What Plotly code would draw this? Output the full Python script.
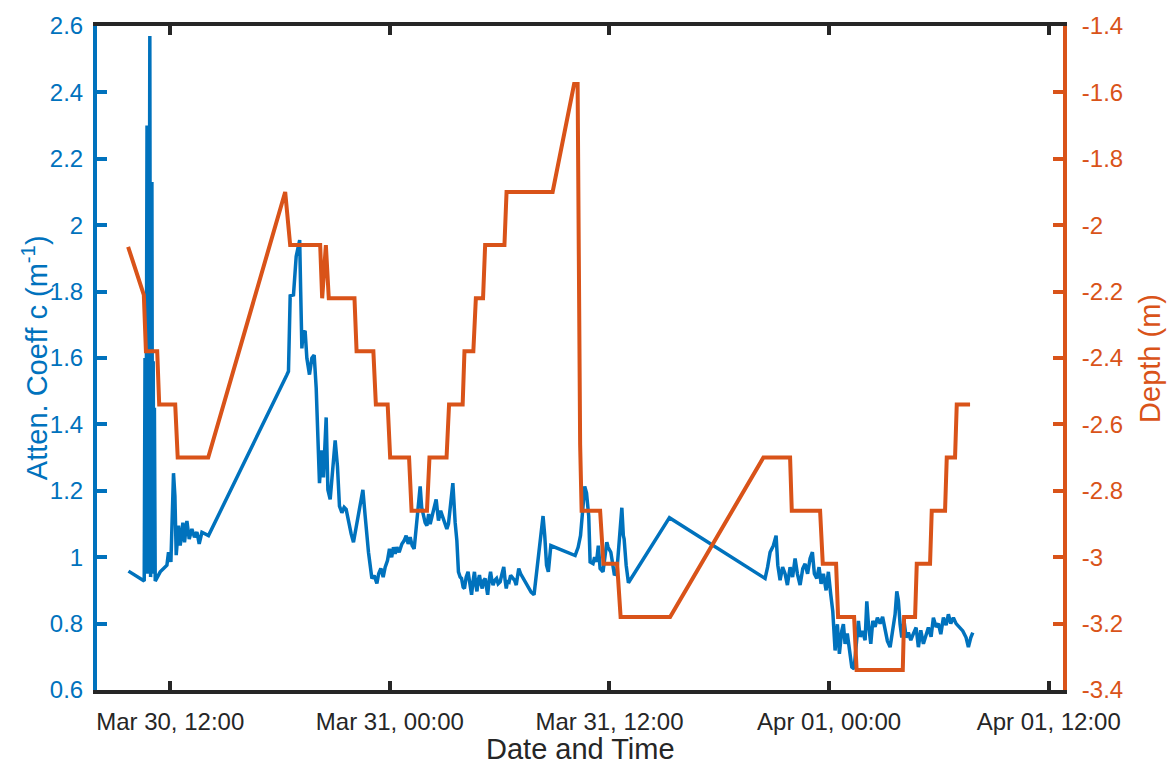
import pandas as pd
import plotly.graph_objects as go

# Time base: hours are counted from Mar 30, 00:00
BASE_DAY = "2024-03-30"

# Beam attenuation coefficient c (m^-1)
atten_hours = [
    9.72, 10.580, 10.623, 10.656, 10.700, 10.733, 10.765, 10.798, 10.831, 10.886,
    10.929, 10.962, 11.000, 11.033, 11.071, 11.104, 11.137, 11.181, 11.454, 11.820,
    11.907, 12.038, 12.180, 12.257, 12.328, 12.453, 12.546, 12.694, 12.781, 12.912,
    13.038, 13.185, 13.327, 13.459, 13.584, 13.732, 13.912, 14.092, 18.364, 18.462,
    18.555, 18.735, 18.883, 19.074, 19.129, 19.194, 19.265, 19.375, 19.467, 19.609,
    19.741, 19.866, 19.976, 20.047, 20.156, 20.287, 20.374, 20.522, 20.615, 20.740,
    20.888, 21.013, 21.139, 21.248, 21.380, 21.505, 21.614, 21.740, 21.887, 22.013,
    22.133, 22.286, 22.407, 22.527, 22.652, 22.833, 23.019, 23.144, 23.292, 23.390,
    23.510, 23.636, 23.745, 23.871, 23.980, 24.100, 24.198, 24.291, 24.384, 24.510,
    24.657, 24.783, 24.892, 25.001, 25.110, 25.220, 25.329, 25.477, 25.575, 25.657,
    25.739, 25.837, 25.930, 26.023, 26.121, 26.203, 26.296, 26.422, 26.531, 26.657,
    26.777, 26.897, 27.023, 27.115, 27.203, 27.296, 27.443, 27.569, 27.662, 27.749,
    27.842, 27.918, 28.006, 28.077, 28.170, 28.274, 28.361, 28.465, 28.552, 28.623,
    28.689, 28.760, 28.825, 28.896, 28.973, 29.049, 29.126, 29.208, 29.279, 29.344,
    29.426, 29.503, 29.574, 29.640, 29.727, 29.831, 29.918, 30.027, 30.126, 30.224,
    30.300, 30.361, 30.437, 30.519, 30.600, 30.710, 30.819, 30.907, 30.983, 31.043,
    31.147, 31.294, 31.447, 31.589, 31.720, 31.879, 31.967, 32.076, 32.185, 32.273,
    32.371, 32.464, 32.562, 32.660, 32.797, 34.124, 34.288, 34.419, 34.512, 34.648,
    34.747, 34.867, 34.943, 35.102, 35.189, 35.293, 35.391, 35.489, 35.648, 35.784,
    35.855, 35.926, 36.074, 36.129, 36.271, 36.402, 36.561, 36.676, 36.758, 36.801,
    36.911, 37.036, 39.276, 44.503, 44.640, 44.776, 44.957, 45.104, 45.197, 45.322,
    45.459, 45.596, 45.722, 45.869, 46.006, 46.142, 46.268, 46.415, 46.563, 46.688,
    46.825, 46.962, 47.087, 47.196, 47.327, 47.453, 47.562, 47.688, 47.835, 47.961,
    48.092, 48.202, 48.327, 48.453, 48.562, 48.693, 48.781, 48.874, 48.994, 49.109,
    49.240, 49.366, 49.475, 49.601, 49.694, 49.819, 49.967, 50.060, 50.147, 50.278,
    50.388, 50.513, 50.639, 50.786, 50.923, 51.060, 51.185, 51.333, 51.480, 51.606,
    51.699, 51.786, 51.879, 51.972, 52.097, 52.207, 52.333, 52.464, 52.606, 52.754,
    52.879, 53.010, 53.152, 53.300, 53.425, 53.573, 53.698, 53.846, 53.972, 54.103,
    54.245, 54.393, 54.518, 54.649, 54.791, 54.939, 55.119, 55.305, 55.485, 55.611,
    55.742, 55.851,
]
atten_values = [
    0.958, 0.928, 1.60, 0.96, 1.58, 2.30, 0.95, 1.60, 0.97, 2.57,
    0.94, 1.61, 2.13, 0.96, 1.59, 0.95, 1.45, 0.928, 0.956, 0.976,
    1.015, 0.986, 1.253, 1.184, 1.006, 1.095, 1.035, 1.104, 1.045, 1.109,
    1.055, 1.085, 1.060, 1.076, 1.040, 1.075, 1.070, 1.065, 1.548, 1.560,
    1.787, 1.790, 1.906, 1.955, 1.800, 1.629, 1.680, 1.678, 1.599, 1.550,
    1.600, 1.609, 1.510, 1.401, 1.223, 1.322, 1.240, 1.421, 1.203, 1.174,
    1.260, 1.352, 1.273, 1.154, 1.134, 1.150, 1.144, 1.104, 1.070, 1.045,
    1.080, 1.124, 1.160, 1.203, 1.124, 1.015, 0.936, 0.945, 0.921, 0.950,
    0.966, 0.940, 0.970, 0.990, 1.025, 1.000, 1.030, 1.010, 1.030, 1.015,
    1.040, 1.050, 1.065, 1.040, 1.060, 1.035, 1.025, 1.104, 1.160, 1.213,
    1.150, 1.124, 1.104, 1.095, 1.130, 1.100, 1.120, 1.150, 1.174, 1.110,
    1.140, 1.120, 1.100, 1.085, 1.100, 1.154, 1.223, 1.104, 1.050, 0.956,
    0.940, 0.936, 0.910, 0.906, 0.940, 0.956, 0.920, 0.887, 0.930, 0.956,
    0.920, 0.897, 0.930, 0.946, 0.920, 0.906, 0.930, 0.936, 0.910, 0.887,
    0.930, 0.956, 0.930, 0.916, 0.930, 0.936, 0.920, 0.926, 0.950, 0.971,
    0.930, 0.906, 0.930, 0.926, 0.945, 0.936, 0.930, 0.916, 0.940, 0.966,
    0.950, 0.936, 0.920, 0.906, 0.895, 0.887, 0.930, 0.966, 1.020, 1.075,
    1.124, 1.065, 0.976, 0.956, 1.035, 1.005, 1.030, 1.065, 1.124, 1.213,
    1.193, 1.124, 0.986, 0.981, 1.000, 0.986, 1.035, 0.966, 0.956, 1.005,
    1.045, 1.030, 1.015, 0.996, 0.946, 0.956, 1.085, 1.149, 1.065, 1.055,
    0.976, 0.923, 1.119, 0.936, 0.970, 1.015, 1.035, 1.065, 0.976, 0.931,
    0.970, 0.950, 0.916, 0.970, 0.940, 0.996, 0.950, 0.916, 0.966, 0.980,
    0.950, 0.996, 1.015, 0.950, 0.936, 0.970, 0.920, 0.950, 0.900, 0.956,
    0.887, 0.837, 0.719, 0.798, 0.709, 0.778, 0.798, 0.739, 0.770, 0.720,
    0.669, 0.664, 0.729, 0.808, 0.760, 0.778, 0.750, 0.867, 0.800, 0.739,
    0.808, 0.790, 0.818, 0.800, 0.820, 0.778, 0.748, 0.729, 0.780, 0.828,
    0.897, 0.870, 0.798, 0.758, 0.808, 0.758, 0.773, 0.750, 0.770, 0.788,
    0.729, 0.780, 0.739, 0.770, 0.788, 0.760, 0.818, 0.790, 0.800, 0.768,
    0.818, 0.795, 0.828, 0.800, 0.818, 0.800, 0.788, 0.778, 0.758, 0.729,
    0.758, 0.773,
]

# Instrument depth (m)
depth_hours = [
    9.700, 10.558, 10.673, 11.290, 11.399, 12.273, 12.410, 14.076, 18.282, 18.555,
    20.194, 20.303, 20.505, 20.664, 22.068, 22.183, 23.100, 23.237, 23.881, 24.018,
    25.050, 25.187, 26.028, 26.165, 27.099, 27.236, 27.978, 28.077, 28.563, 28.700,
    29.093, 29.207, 30.262, 30.377, 32.895, 34.069, 34.260, 34.315, 34.397, 34.479,
    35.489, 35.670, 36.418, 36.609, 39.313, 44.410, 45.869, 45.961, 47.508, 47.655,
    48.382, 48.491, 49.366, 49.502, 52.026, 52.097, 52.698, 52.790, 53.516, 53.609,
    54.336, 54.429, 54.882, 54.975, 55.702,
]
depth_values = [
    -2.065, -2.21, -2.38, -2.38, -2.54, -2.54, -2.70, -2.70, -1.90, -2.06,
    -2.06, -2.22, -2.06, -2.22, -2.22, -2.38, -2.38, -2.54, -2.54, -2.70,
    -2.70, -2.86, -2.86, -2.70, -2.70, -2.54, -2.54, -2.38, -2.38, -2.22,
    -2.22, -2.06, -2.06, -1.90, -1.90, -1.575, -1.575, -2.10, -2.66, -2.86,
    -2.86, -3.02, -3.02, -3.18, -3.18, -2.70, -2.70, -2.86, -2.86, -3.02,
    -3.02, -3.18, -3.18, -3.34, -3.34, -3.18, -3.18, -3.02, -3.02, -2.86,
    -2.86, -2.70, -2.70, -2.54, -2.54,
]

# Axis ticks
x_tick_hours = [12, 24, 36, 48, 60]
x_range_hours = [8.0, 60.78]
left_ticks = [0.6, 0.8, 1.0, 1.2, 1.4, 1.6, 1.8, 2.0, 2.2, 2.4, 2.6]
left_tick_text = ["0.6", "0.8", "1", "1.2", "1.4", "1.6", "1.8", "2", "2.2", "2.4", "2.6"]
right_ticks = [-3.4, -3.2, -3.0, -2.8, -2.6, -2.4, -2.2, -2.0, -1.8, -1.6, -1.4]
right_tick_text = ["-3.4", "-3.2", "-3", "-2.8", "-2.6", "-2.4", "-2.2", "-2", "-1.8", "-1.6", "-1.4"]

BLUE = "#0072BD"
ORANGE = "#D95319"
DARK = "#262626"
FONT = "Arial, 'Liberation Sans', sans-serif"
TICK_SIZE = 24
TITLE_SIZE = 29


def to_time(hours):
    return pd.Timestamp(BASE_DAY) + pd.to_timedelta(pd.Series(hours, dtype=float), unit="h")


fig = go.Figure()
fig.add_trace(go.Scatter(
    x=to_time(atten_hours), y=atten_values, mode="lines",
    line=dict(color=BLUE, width=3.5), yaxis="y", showlegend=False,
))
fig.add_trace(go.Scatter(
    x=to_time(depth_hours), y=depth_values, mode="lines",
    line=dict(color=ORANGE, width=4), yaxis="y2", showlegend=False,
))

x_ticks = to_time(x_tick_hours)
x_rng = to_time(x_range_hours)

fig.update_layout(
    width=1168, height=767,
    margin=dict(l=97, r=105, t=16, b=77),
    paper_bgcolor="white", plot_bgcolor="white",
    font=dict(family=FONT, size=TICK_SIZE, color=DARK),
    xaxis=dict(
        type="date", range=[x_rng.iloc[0], x_rng.iloc[1]],
        tickvals=list(x_ticks), tickformat="%b %d, %H:%M",
        showline=True, linecolor=DARK, linewidth=4, mirror="ticks",
        ticks="inside", ticklen=9, tickwidth=3.5, tickcolor=DARK,
        showgrid=False, zeroline=False,
        tickfont=dict(size=TICK_SIZE, color=DARK),
        ticklabelstandoff=7,
    ),
    yaxis=dict(
        range=[0.6, 2.6], tickvals=left_ticks, ticktext=left_tick_text,
        showline=True, linecolor=BLUE, linewidth=4,
        ticks="inside", ticklen=10, tickwidth=3.5, tickcolor=BLUE,
        showgrid=False, zeroline=False,
        tickfont=dict(size=TICK_SIZE, color=BLUE),
        ticklabelstandoff=5,
    ),
    yaxis2=dict(
        range=[-3.4, -1.4], tickvals=right_ticks, ticktext=right_tick_text,
        overlaying="y", side="right",
        showline=True, linecolor=ORANGE, linewidth=4,
        ticks="inside", ticklen=10, tickwidth=3.5, tickcolor=ORANGE,
        showgrid=False, zeroline=False,
        tickfont=dict(size=TICK_SIZE, color=ORANGE),
        ticklabelstandoff=10,
    ),
    annotations=[
        dict(text="Atten. Coeff c (m<sup>-1</sup>)", xref="paper", yref="paper",
             x=-0.064, y=0.5, xanchor="center", yanchor="middle", textangle=-90,
             showarrow=False, font=dict(size=TITLE_SIZE, color=BLUE, family=FONT)),
        dict(text="Depth (m)", xref="paper", yref="paper",
             x=1.090, y=0.5, xanchor="center", yanchor="middle", textangle=-90,
             showarrow=False, font=dict(size=TITLE_SIZE, color=ORANGE, family=FONT)),
        dict(text="Date and Time", xref="paper", yref="paper",
             x=0.5, y=-0.089, xanchor="center", yanchor="middle",
             showarrow=False, font=dict(size=TITLE_SIZE, color=DARK, family=FONT)),
    ],
)

fig.write_html("out.html")
